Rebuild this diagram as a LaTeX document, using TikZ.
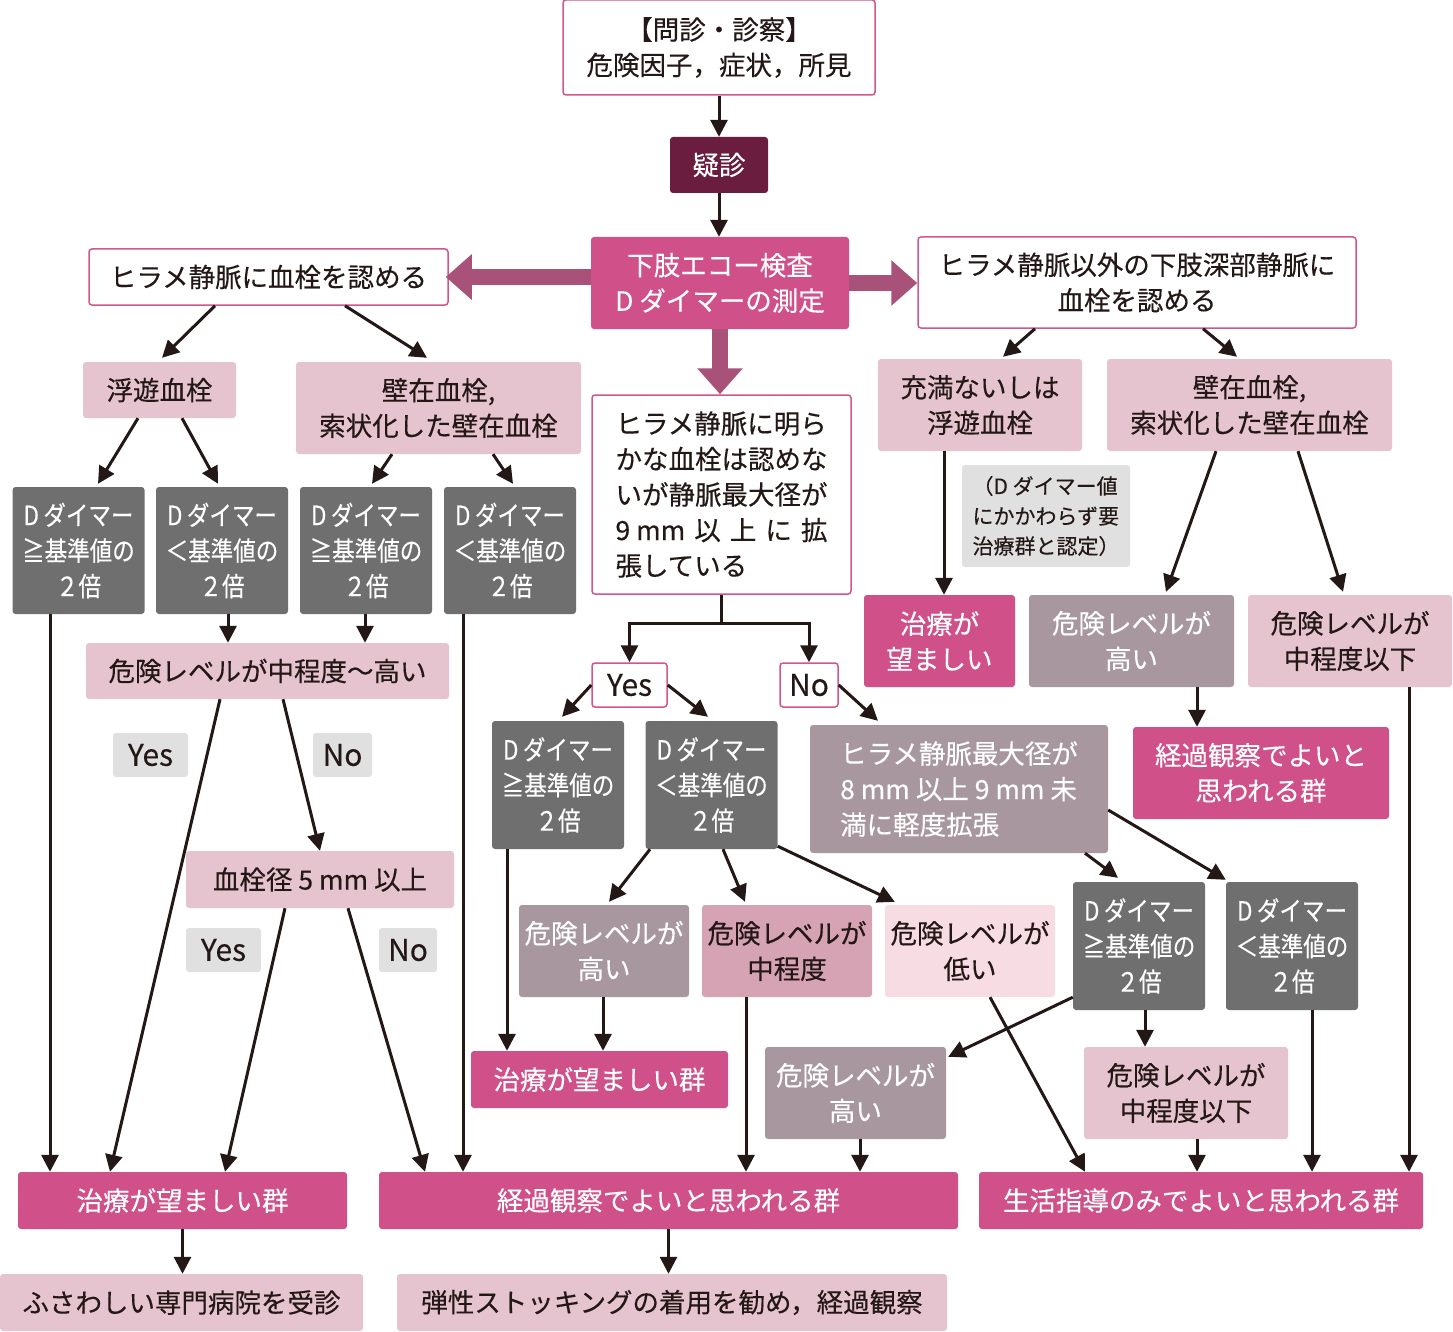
\documentclass[tikz,border=0pt]{standalone}
\usepackage{fontspec}
\setmainfont{Noto Sans CJK JP}[FakeBold=0.3]
\newfontfamily\narrowjp[FakeStretch=0.85, FakeBold=0.3]{Noto Sans CJK JP}
\usetikzlibrary{arrows.meta}

\definecolor{ink}{HTML}{231815}
\definecolor{mag}{HTML}{D0508A}
\definecolor{wine}{HTML}{6B1D3F}
\definecolor{pinkL}{HTML}{E6C4CF}
\definecolor{pinkM}{HTML}{D6A3B5}
\definecolor{pinkVL}{HTML}{F7DCE3}
\definecolor{mauve}{HTML}{A9979F}
\definecolor{grayD}{HTML}{6F6F6F}
\definecolor{grayL}{HTML}{E0E0E0}
\definecolor{thickarr}{HTML}{A8527A}
\definecolor{boxline}{HTML}{D2558C}

\begin{document}
\begin{tikzpicture}[x=1pt, y=-1pt]
    \tikzstyle{box} = [rounded corners=3pt, align=center, inner sep=0pt, font=\fontsize{26.5}{35.5}\selectfont]
    \tikzstyle{finding} = [box, draw=boxline, line width=1.5pt, fill=white, text=ink]
    \tikzstyle{result} = [box, fill=mag, text=white]
    \tikzstyle{state} = [box, fill=pinkL, text=ink]
    \tikzstyle{risk} = [box, fill=mauve, text=white]
    \tikzstyle{dimer} = [box, fill=grayD, text=white, minimum width=132pt, font=\narrowjp\fontsize{26.5}{35.5}\selectfont]
    \tikzstyle{answer} = [box, fill=grayL, text=ink, minimum height=44pt, font=\fontsize{30}{36}\selectfont]
    \tikzstyle{arr} = [draw=ink, line width=3pt, -{Triangle[length=17pt,width=17pt]}]
    \tikzstyle{bigarr} = [draw=thickarr, line width=16pt, -{Triangle[length=26pt,width=44pt]}]
    \useasboundingbox (0,0) rectangle (1453,1332);

    % top
    \node[finding, minimum width=312pt, minimum height=95pt] (monshin) at (719,47.5) {【問診・診察】\\危険因子，症状，所見};
    \node[box, fill=wine, text=white, minimum width=98pt, minimum height=56pt] (gishin) at (719,165) {疑診};
    \node[result, minimum width=258pt, minimum height=92pt] (echo) at (720,283) {下肢エコー検査\\D ダイマーの測定};
    \node[finding, minimum width=359pt, minimum height=56pt] (hirame) at (268.5,277) {ヒラメ静脈に血栓を認める};
    \node[finding, minimum width=438pt, minimum height=91pt] (shinbu) at (1137,282.5) {ヒラメ静脈以外の下肢深部静脈に\\血栓を認める};

    % left branch
    \node[state, minimum width=153pt, minimum height=56pt] (fuyu) at (159.5,390) {浮遊血栓};
    \node[state, minimum width=285pt, minimum height=92pt] (hekizai) at (438.5,408) {壁在血栓,\\索状化した壁在血栓};
    \foreach \n/\x/\s in {ge1/78.5/≧, lt1/222/＜, ge2/366/≧, lt2/510/＜}
        \node[dimer, minimum height=127pt] (\n) at (\x,550.5) {D\,ダイマー\\\s 基準値の\\２倍};
    \node[state, minimum width=363pt, minimum height=56pt] (chukodo) at (267.5,671) {危険レベルが中程度〜高い};
    \node[answer, minimum width=75pt] (yesA) at (150.5,755) {Yes};
    \node[answer, minimum width=59pt] (noA) at (342.5,755) {No};
    \node[state, minimum width=268pt, minimum height=57pt] (kessenkei) at (320,879.5) {血栓径 5 mm 以上};
    \node[answer, minimum width=75pt] (yesB) at (223.5,950) {Yes};
    \node[answer, minimum width=58pt] (noB) at (408,950) {No};

    % middle branch
    \node[finding, align=left, minimum width=259pt, minimum height=199pt] (kakucho) at (721.5,494.5)
        {ヒラメ静脈に明ら\\かな血栓は認めな\\いが静脈最大径が\\\hbox to 212pt{9 mm\hfill 以\hfill 上\hfill に\hfill 拡}\\張している};
    \node[finding, minimum width=75pt, minimum height=44pt, font=\fontsize{30}{36}\selectfont] (yesC) at (629.5,685) {Yes};
    \node[finding, minimum width=58pt, minimum height=44pt, font=\fontsize{30}{36}\selectfont] (noC) at (809,685) {No};
    \node[dimer, minimum height=128pt] (ge3) at (558,785) {D\,ダイマー\\≧基準値の\\２倍};
    \node[dimer, minimum height=128pt] (lt3) at (711.5,785) {D\,ダイマー\\＜基準値の\\２倍};
    \node[risk, align=left, minimum width=298pt, minimum height=128pt] (keido) at (959,789)
        {ヒラメ静脈最大径が\\8 mm 以上 9 mm 未\\満に軽度拡張};
    \node[risk, minimum width=170pt, minimum height=92pt] (takaiM) at (604,951) {危険レベルが\\高い};
    \node[box, fill=pinkM, text=ink, minimum width=170pt, minimum height=92pt] (chuM) at (787,951) {危険レベルが\\中程度};
    \node[box, fill=pinkVL, text=ink, minimum width=170pt, minimum height=92pt] (hikuiM) at (970,951) {危険レベルが\\低い};
    \node[dimer, minimum height=128pt] (ge4) at (1139,946) {D\,ダイマー\\≧基準値の\\２倍};
    \node[dimer, minimum height=128pt] (lt4) at (1292,946) {D\,ダイマー\\＜基準値の\\２倍};
    \node[result, minimum width=257pt, minimum height=57pt] (chiryoM) at (599.5,1079.5) {治療が望ましい群};
    \node[risk, minimum width=181pt, minimum height=92pt] (takaiK) at (855.5,1093) {危険レベルが\\高い};
    \node[state, minimum width=204pt, minimum height=92pt] (ikaK) at (1186,1093) {危険レベルが\\中程度以下};

    % right branch
    \node[state, minimum width=204pt, minimum height=92pt] (juman) at (980,405) {充満ないしは\\浮遊血栓};
    \node[state, minimum width=285pt, minimum height=92pt] (hekizai2) at (1249.5,405) {壁在血栓,\\索状化した壁在血栓};
    \node[box, fill=grayL, text=ink, align=left, minimum width=168pt, minimum height=102pt, font=\fontsize{21}{30}\selectfont] (chui) at (1046,516)
        {（D ダイマー値\\にかかわらず要\\治療群と認定）};
    \node[result, minimum width=151pt, minimum height=92pt] (chiryoR) at (939.5,641) {治療が\\望ましい};
    \node[risk, minimum width=205pt, minimum height=92pt] (takaiR) at (1131.5,641) {危険レベルが\\高い};
    \node[state, minimum width=204pt, minimum height=92pt] (ikaR) at (1350,641) {危険レベルが\\中程度以下};
    \node[result, minimum width=256pt, minimum height=92pt] (keikaR) at (1261,773) {経過観察でよいと\\思われる群};

    % bottom
    \node[result, minimum width=329pt, minimum height=57pt] (chiryoG) at (182.5,1200.5) {治療が望ましい群};
    \node[result, minimum width=579pt, minimum height=57pt] (keikaG) at (668.5,1200.5) {経過観察でよいと思われる群};
    \node[result, minimum width=444pt, minimum height=57pt] (seikatsuG) at (1201,1200.5) {生活指導のみでよいと思われる群};
    \node[state, minimum width=363pt, minimum height=57pt] (senmon) at (181.5,1302.5) {ふさわしい専門病院を受診};
    \node[state, minimum width=550pt, minimum height=57pt] (stocking) at (672,1302.5) {弾性ストッキングの着用を勧め，経過観察};

    % thick arrows out of the echo box
    \draw[bigarr] (echo.west |- hirame.east) -- ([xshift=-3pt]hirame.east);
    \draw[bigarr] (echo.east) -- (echo.east -| shinbu.west);
    \draw[bigarr] (echo.south) -- (echo.south |- kakucho.north);

    \draw[arr] (monshin.south) -- (gishin.north);
    \draw[arr] (gishin.south) -- (gishin.south |- echo.north);

    % left
    \draw[arr] ([shift={(-53.5,0)}]hirame.south) -- ([shift={(2.5,-4)}]fuyu.north);
    \draw[arr] ([shift={(76.5,0)}]hirame.south) -- ([shift={(-11.5,-4)}]hekizai.north);
    \draw[arr] ([shift={(-21.5,0)}]fuyu.south) -- ([shift={(19.5,-3)}]ge1.north);
    \draw[arr] ([shift={(22.5,0)}]fuyu.south) -- ([shift={(-4,-3)}]lt1.north);
    \draw[arr] ([shift={(-46.5,0)}]hekizai.south) -- ([shift={(6,-3)}]ge2.north);
    \draw[arr] ([shift={(54.5,0)}]hekizai.south) -- ([shift={(3,-3)}]lt2.north);
    \draw[arr] ([shift={(-28.5,0)}]ge1.south) -- ([shift={(-132.5,0)}]chiryoG.north);
    \draw[arr] ([shift={(6,0)}]lt1.south) -- ([shift={(-39.5,0)}]chukodo.north);
    \draw[arr] ([shift={(-1,0)}]ge2.south) -- ([shift={(97.5,0)}]chukodo.north);
    \draw[arr] ([shift={(-47,0)}]lt2.south) -- ([shift={(-205.5,0)}]keikaG.north);
    \draw[arr] ([shift={(-47.5,0)}]chukodo.south) -- ([shift={(-72.5,0)}]chiryoG.north);
    \draw[arr] ([shift={(15.5,0)}]chukodo.south) -- (kessenkei.north);
    \draw[arr] ([shift={(-35,0)}]kessenkei.south) -- ([shift={(42.5,0)}]chiryoG.north);
    \draw[arr] ([shift={(28,0)}]kessenkei.south) -- ([shift={(-243.5,0)}]keikaG.north);
    \draw[arr] (chiryoG.south) -- (chiryoG.south |- senmon.north);
    \draw[arr] (keikaG.south) -- (keikaG.south |- stocking.north);

    % middle
    \draw[arr] (kakucho.south) -- ++(0,29) -| (yesC.north);
    \draw[arr] (kakucho.south) ++(0,29) -| (noC.north);
    \draw[arr] (yesC.west) -- ([shift={(4,-4)}]ge3.north);
    \draw[arr] (yesC.east) -- ([shift={(-3.5,-4)}]lt3.north);
    \draw[arr] (noC.east) -- ([shift={(-81,-4)}]keido.north);
    \draw[arr] ([shift={(-51,0)}]ge3.south) -- ([shift={(-92.5,0)}]chiryoM.north);
    \draw[arr] ([shift={(-61.5,0)}]lt3.south) -- ([shift={(5,-3)}]takaiM.north);
    \draw[arr] ([shift={(11.5,0)}]lt3.south) -- ([shift={(-42,-3)}]chuM.north);
    \draw[arr] ([shift={(0,-3)}]lt3.south east) -- ([shift={(10,-3)}]hikuiM.north west);
    \draw[arr] ([shift={(-1,0)}]takaiM.south) -- ([shift={(3.5,0)}]chiryoM.north);
    \draw[arr] ([shift={(-41,0)}]chuM.south) -- ([shift={(77.5,0)}]keikaG.north);
    \draw[arr] ([shift={(20,0)}]hikuiM.south) -- ([shift={(-116,0)}]seikatsuG.north);
    \draw[arr] ([shift={(126,0)}]keido.south) -- ([shift={(-21,-4)}]ge4.north);
    \draw[arr] ([shift={(0,21)}]keido.east) -- ([shift={(0,-2)}]lt4.north west);
    \draw[arr] ([shift={(0,-13)}]ge4.south west) -- ([shift={(2,10)}]takaiK.north east);
    \draw[arr] ([shift={(4.5,0)}]takaiK.south) -- ([shift={(191.5,0)}]keikaG.north);
    \draw[arr] ([shift={(6,0)}]ge4.south) -- ([shift={(-41,0)}]ikaK.north);
    \draw[arr] ([shift={(11,0)}]ikaK.south) -- ([shift={(-4,0)}]seikatsuG.north);
    \draw[arr] ([shift={(20,0)}]lt4.south) -- ([shift={(111,0)}]seikatsuG.north);

    % right
    \draw[arr] ([shift={(-102,0)}]shinbu.south) -- ([shift={(23,-2)}]juman.north);
    \draw[arr] ([shift={(66,0)}]shinbu.south) -- ([shift={(-12.5,-2)}]hekizai2.north);
    \draw[arr] ([shift={(-36,0)}]juman.south) -- ([shift={(4.5,0)}]chiryoR.north);
    \draw[arr] ([shift={(-33.5,0)}]hekizai2.south) -- ([shift={(34.5,-3)}]takaiR.north);
    \draw[arr] ([shift={(48.5,0)}]hekizai2.south) -- ([shift={(-7,-3)}]ikaR.north);
    \draw[arr] ([shift={(65.5,0)}]takaiR.south) -- ([shift={(-64,0)}]keikaR.north);
    \draw[arr] ([shift={(59,0)}]ikaR.south) -- ([shift={(208,0)}]seikatsuG.north);
\end{tikzpicture}
\end{document}
